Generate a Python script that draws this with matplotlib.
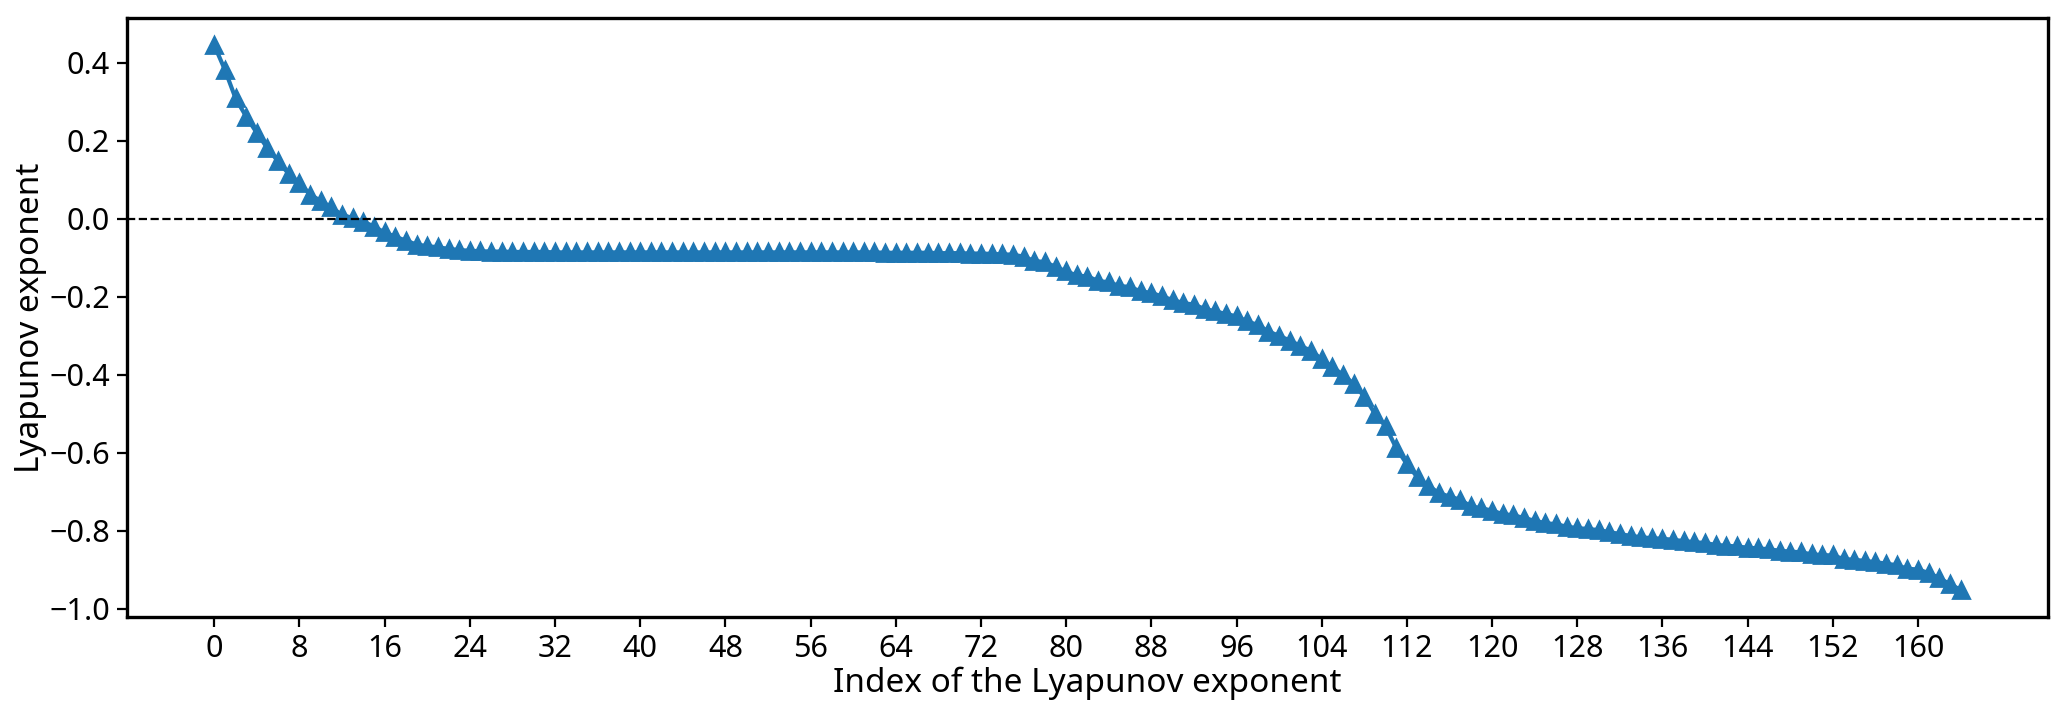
import numpy as np
import matplotlib
matplotlib.use("Agg")
import matplotlib.pyplot as plt

plt.rcParams['font.family'] = ['Noto Sans', 'DejaVu Sans']
plt.rcParams['axes.linewidth'] = 1.2

# Lyapunov spectrum, values
head = [0.445, 0.382, 0.309, 0.262, 0.220, 0.181, 0.147, 0.115, 0.092, 0.062,
        0.046, 0.029, 0.010, 0.002, -0.007, -0.020, -0.035, -0.046, -0.056, -0.066,
        -0.070, -0.073, -0.077, -0.080, -0.082]
plateau = [-0.083, -0.084, -0.084, -0.085, -0.085, -0.085, -0.085, -0.086, -0.086, -0.086,
           -0.086, -0.086, -0.086, -0.086, -0.086, -0.086, -0.086, -0.086, -0.086, -0.086,
           -0.086, -0.086, -0.086, -0.086, -0.086, -0.086, -0.086, -0.086, -0.086, -0.086,
           -0.086, -0.086, -0.086, -0.086, -0.086, -0.086, -0.086, -0.086, -0.087, -0.087,
           -0.087, -0.087, -0.087, -0.088, -0.088, -0.088, -0.089, -0.089, -0.090]
middle = [-0.091, -0.092, -0.097, -0.108, -0.111, -0.123, -0.135, -0.145, -0.148, -0.159,
          -0.163, -0.172, -0.175, -0.186, -0.190, -0.199, -0.208, -0.216, -0.220, -0.231,
          -0.237, -0.244, -0.250, -0.263, -0.272, -0.289, -0.300, -0.312, -0.326, -0.338,
          -0.360, -0.380, -0.400, -0.423, -0.456, -0.500, -0.532, -0.588, -0.629, -0.663]
tail = [-0.684, -0.703, -0.712, -0.720, -0.737, -0.742, -0.748, -0.757, -0.760, -0.767,
        -0.774, -0.780, -0.783, -0.789, -0.793, -0.795, -0.798, -0.803, -0.808, -0.813,
        -0.816, -0.819, -0.820, -0.823, -0.826, -0.829, -0.831, -0.836, -0.838, -0.840,
        -0.843, -0.845, -0.847, -0.851, -0.853, -0.855, -0.860, -0.862, -0.863, -0.872,
        -0.874, -0.877, -0.880, -0.884, -0.888, -0.897, -0.899, -0.908, -0.921, -0.937,
        -0.951]

exponents = np.array(head + plateau + middle + tail)
index = np.arange(len(exponents))
xtick_values = np.arange(0, 161, 8)

fig, ax = plt.subplots(figsize=(10.335, 3.565), dpi=200)
fig.subplots_adjust(left=0.0614, right=0.9908, bottom=0.1346, top=0.9748)

ax.plot(index, exponents, marker='^', color='#1f77b4')
ax.axhline(0, color='k', linestyle='--', linewidth=0.8)

ax.set_xticks(xtick_values)
ax.tick_params(labelsize=11, pad=2.5)
ax.set_xlabel('Index of the Lyapunov exponent', fontsize=12, labelpad=1)
ax.set_ylabel('Lyapunov exponent', fontsize=12, labelpad=1)

fig.savefig('out.png', dpi=200)
